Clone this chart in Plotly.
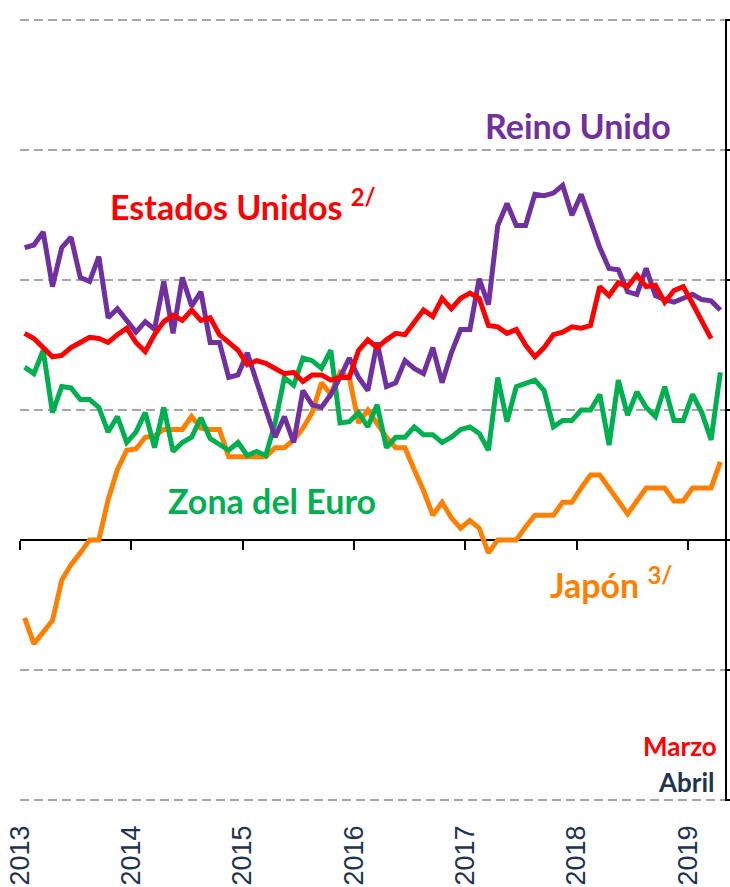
import plotly.graph_objects as go

# ---- data (monthly, Jan 2013 - Apr 2019), annual % change ----
years = [2013, 2014, 2015, 2016, 2017, 2018, 2019]
year_labels = ["2013", "2014", "2015", "2016", "2017", "2018", "2019"]
y_ticks = [-2, -1, 0, 1, 2, 3, 4]

reino_unido = [2.25, 2.27, 2.37, 1.95, 2.25, 2.33, 2.02, 1.99, 2.18, 1.71, 1.78, 1.69,
               1.60, 1.68, 1.62, 1.99, 1.59, 2.02, 1.80, 1.91, 1.52, 1.52, 1.25, 1.27,
               1.44, 1.22, 1.01, 0.79, 0.95, 0.75, 1.15, 1.04, 1.02, 1.12, 1.25, 1.40,
               1.25, 1.15, 1.52, 1.18, 1.21, 1.38, 1.32, 1.28, 1.48, 1.21, 1.44, 1.62,
               1.62, 2.01, 1.81, 2.42, 2.59, 2.42, 2.42, 2.66, 2.65, 2.67, 2.73, 2.50,
               2.66, 2.44, 2.25, 2.09, 2.08, 1.91, 1.89, 2.09, 1.88, 1.85, 1.83, 1.86,
               1.89, 1.85, 1.84, 1.77]

estados_unidos = [1.59, 1.55, 1.48, 1.41, 1.42, 1.48, 1.52, 1.56, 1.55, 1.52, 1.58, 1.63,
                  1.52, 1.45, 1.58, 1.68, 1.73, 1.69, 1.77, 1.69, 1.71, 1.58, 1.52, 1.46,
                  1.35, 1.38, 1.36, 1.32, 1.28, 1.29, 1.22, 1.27, 1.27, 1.23, 1.25, 1.25,
                  1.46, 1.54, 1.48, 1.54, 1.59, 1.58, 1.67, 1.77, 1.72, 1.86, 1.78, 1.86,
                  1.90, 1.86, 1.65, 1.64, 1.59, 1.62, 1.50, 1.41, 1.48, 1.58, 1.60, 1.64,
                  1.63, 1.65, 1.95, 1.88, 1.98, 1.95, 2.04, 1.95, 1.96, 1.83, 1.92, 1.95,
                  1.82, 1.69, 1.55]

zona_euro = [1.33, 1.28, 1.46, 0.98, 1.18, 1.17, 1.08, 1.08, 1.02, 0.83, 0.95, 0.75,
             0.83, 0.98, 0.71, 1.02, 0.68, 0.75, 0.79, 0.94, 0.78, 0.73, 0.69, 0.75,
             0.65, 0.68, 0.65, 0.90, 1.25, 1.19, 1.40, 1.38, 1.32, 1.46, 0.90, 0.91,
             0.98, 0.87, 1.04, 0.71, 0.79, 0.79, 0.87, 0.81, 0.81, 0.75, 0.79, 0.85,
             0.87, 0.82, 0.69, 1.25, 0.91, 1.18, 1.21, 1.23, 1.15, 0.87, 0.92, 0.92,
             1.00, 1.00, 1.12, 0.73, 1.23, 0.96, 1.14, 1.02, 0.95, 1.18, 0.92, 0.92,
             1.12, 0.98, 0.77, 1.29]

japon = [-0.60, -0.80, -0.71, -0.62, -0.31, -0.19, -0.10, 0.00, 0.00, 0.31, 0.54, 0.69,
         0.70, 0.79, 0.80, 0.85, 0.85, 0.85, 0.95, 0.86, 0.85, 0.85, 0.64, 0.64,
         0.64, 0.64, 0.64, 0.71, 0.71, 0.77, 0.86, 0.98, 1.21, 1.12, 1.29, 1.25,
         0.90, 1.00, 0.90, 0.79, 0.71, 0.71, 0.54, 0.38, 0.19, 0.29, 0.17, 0.09,
         0.15, 0.09, -0.10, 0.00, 0.00, 0.00, 0.10, 0.19, 0.19, 0.19, 0.29, 0.29,
         0.40, 0.50, 0.50, 0.40, 0.30, 0.20, 0.30, 0.40, 0.40, 0.40, 0.30, 0.30,
         0.40, 0.40, 0.40, 0.60]


def month_x(n):
    # mid-month position in decimal years, starting Jan 2013
    return [2013 + (i + 0.5) / 12 for i in range(n)]


PURPLE = "#7030A0"
RED = "#FF0000"
GREEN = "#00B050"
ORANGE = "#FF7F00"
NAVY = "#1F3350"
LW = 5

fig = go.Figure()
fig.add_trace(go.Scatter(x=month_x(len(japon)), y=japon, mode="lines",
                         line=dict(color=ORANGE, width=LW), name="Japón"))
fig.add_trace(go.Scatter(x=month_x(len(zona_euro)), y=zona_euro, mode="lines",
                         line=dict(color=GREEN, width=LW), name="Zona del Euro"))
fig.add_trace(go.Scatter(x=month_x(len(reino_unido)), y=reino_unido, mode="lines",
                         line=dict(color=PURPLE, width=LW), name="Reino Unido"))
fig.add_trace(go.Scatter(x=month_x(len(estados_unidos)), y=estados_unidos, mode="lines",
                         line=dict(color=RED, width=LW), name="Estados Unidos"))
# helper trace so the zero-line tick axis is drawn
fig.add_trace(go.Scatter(x=[years[0]], y=[None], xaxis="x2", mode="lines",
                         showlegend=False, hoverinfo="skip"))

x_range = [2013, 2019 + 4 / 12]
pad = 0.01  # tiny range padding so the edge grid lines are drawn

fig.update_layout(
    width=730, height=887,
    margin=dict(l=20, r=5, t=19, b=86, autoexpand=False),
    paper_bgcolor="white", plot_bgcolor="white",
    showlegend=False,
    xaxis=dict(range=x_range, tickvals=years, ticktext=year_labels,
               tickangle=-90, showgrid=False, zeroline=False, showline=False,
               ticks="", ticklabelstandoff=18, automargin=False,
               ticklabeloverflow="allow",
               tickfont=dict(family="Liberation Sans, Arial", size=27, color=NAVY)),
    xaxis2=dict(range=x_range, overlaying="x", anchor="free",
                position=(2 + pad) / (6 + 2 * pad), automargin=False,
                tickvals=years, ticks="outside", ticklen=9, tickwidth=1.5,
                tickcolor="#000000", showticklabels=False, showgrid=False,
                zeroline=False, showline=False),
    yaxis=dict(range=[-2 - pad, 4 + pad], tickvals=y_ticks, showticklabels=False,
               side="right", automargin=False,
               showline=True, linecolor="#000000", linewidth=1.5,
               ticks="outside", ticklen=6, tickwidth=1.5, tickcolor="#000000",
               showgrid=True, gridcolor="#A6A6A6", gridwidth=2, griddash="9px,5px",
               zeroline=True, zerolinecolor="#000000", zerolinewidth=1.5),
)


def px_x(px):
    return (px - 20) / 705


def px_y(py):
    return (801 - py) / 782


big = 34
annots = [
    ("<b>Reino Unido</b>", 578, 125, "center", PURPLE, big),
    ("<b>Estados Unidos <sup>2/</sup></b>", 108, 205, "left", RED, big),
    ("<b>Zona del Euro</b>", 166, 500, "left", GREEN, big),
    ("<b>Japón <sup>3/</sup></b>", 548, 583, "left", ORANGE, big),
    ("<b>Marzo</b>", 719, 746, "right", RED, 26),
    ("<b>Abril</b>", 717, 782, "right", NAVY, 26),
]
for text, ax_, ay_, anchor, col, size in annots:
    fig.add_annotation(text=text, xref="paper", yref="paper",
                       x=px_x(ax_), y=px_y(ay_), xanchor=anchor, yanchor="middle",
                       showarrow=False,
                       font=dict(family="Lato", size=size, color=col))

# remove the browser's default 8px page margin so the figure fills the window
fig.write_html("out.html",
               config={"displayModeBar": False},
               post_script="document.body.style.margin='0';"
                           "document.body.style.overflow='hidden';")
